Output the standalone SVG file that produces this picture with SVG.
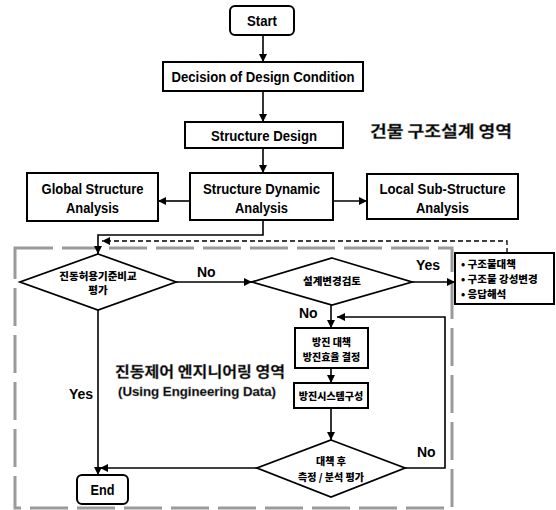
<svg xmlns="http://www.w3.org/2000/svg" width="556" height="510" viewBox="0 0 556 510">
<style>
.box{fill:#fff;stroke:#000;stroke-width:2}
.dia{fill:#fff;stroke:#000;stroke-width:1.8}
.ln{fill:none;stroke:#000;stroke-width:1.6}
.dash{fill:none;stroke:#000;stroke-width:1.3;stroke-dasharray:5 3}
.reg{fill:none;stroke:#9a9a9a;stroke-width:3;stroke-dasharray:38 9}
.en{font-family:"Liberation Sans",Arial,sans-serif;font-weight:bold;font-size:14px;fill:#000}
.ko{font-family:"Noto Sans CJK KR","Noto Sans",sans-serif;font-weight:900;font-size:10px;fill:#000}
.big{font-family:"Noto Sans CJK KR","Liberation Sans",sans-serif;font-weight:bold;font-size:15px;fill:#000;stroke:#777;stroke-width:0.4}
.bigen{font-family:"Liberation Sans",Arial,sans-serif;font-weight:bold;font-size:13.5px;fill:#000;stroke:#777;stroke-width:0.4}
.c{text-anchor:middle}
</style>
<defs>
<marker id="ah" viewBox="0 0 10 10" refX="10" refY="5" markerWidth="8" markerHeight="8" markerUnits="userSpaceOnUse" orient="auto">
<path d="M0,0 L10,5 L0,10 Z" fill="#000"/>
</marker>
</defs>

<rect id="region" class="reg" x="15" y="248" width="437" height="260"/>

<g id="connectors">
<line class="ln" x1="263" y1="35" x2="263" y2="62" marker-end="url(#ah)"/>
<line class="ln" x1="263" y1="91" x2="263" y2="122" marker-end="url(#ah)"/>
<line class="ln" x1="263" y1="148" x2="263" y2="173" marker-end="url(#ah)"/>
<line class="ln" x1="190" y1="201" x2="158" y2="201" marker-end="url(#ah)"/>
<line class="ln" x1="333" y1="201" x2="367" y2="201" marker-end="url(#ah)"/>
<polyline class="ln" points="263,220 263,235 98,235 98,254" marker-end="url(#ah)"/>
<polyline class="dash" points="507,253 507,241 102,241" marker-end="url(#ah)"/>
<line class="ln" x1="176" y1="282" x2="252" y2="282" marker-end="url(#ah)"/>
<line class="ln" x1="412" y1="282" x2="455" y2="282" marker-end="url(#ah)"/>
<line class="ln" x1="331" y1="305" x2="331" y2="328" marker-end="url(#ah)"/>
<line class="ln" x1="331" y1="368" x2="331" y2="383" marker-end="url(#ah)"/>
<line class="ln" x1="331" y1="408" x2="331" y2="440" marker-end="url(#ah)"/>
<polyline class="ln" points="405,468 445,468 445,317 337,317" marker-end="url(#ah)"/>
<line class="ln" x1="257" y1="468" x2="100" y2="468" marker-end="url(#ah)"/>
<line class="ln" x1="98" y1="310" x2="98" y2="475" marker-end="url(#ah)"/>
<text class="en" x="197" y="277" font-size="13">No</text>
<text class="en" x="416" y="270" font-size="13">Yes</text>
<text class="en" x="299" y="318" font-size="13">No</text>
<text class="en" x="417" y="457" font-size="13">No</text>
<text class="en" x="69" y="399" font-size="13">Yes</text>
</g>

<g id="start">
<rect class="box" x="230" y="6" width="64" height="29" rx="5"/>
<text class="en c" x="262" y="26" textLength="30" lengthAdjust="spacingAndGlyphs">Start</text>
</g>
<g id="decision">
<rect class="box" x="163" y="62" width="200" height="29"/>
<text class="en c" x="263" y="82" textLength="183" lengthAdjust="spacingAndGlyphs">Decision of Design Condition</text>
</g>
<g id="structure-design">
<rect class="box" x="185" y="122" width="158" height="26"/>
<text class="en c" x="264" y="141" textLength="106" lengthAdjust="spacingAndGlyphs">Structure Design</text>
</g>
<g id="title-building">
<text class="big" x="370" y="137" font-size="16" textLength="142" lengthAdjust="spacingAndGlyphs" style="font-size:16px">건물 구조설계 영역</text>
</g>
<g id="global">
<rect class="box" x="27" y="173" width="131" height="48"/>
<text class="en c" x="92.5" y="194" textLength="102" lengthAdjust="spacingAndGlyphs">Global Structure</text>
<text class="en c" x="92.5" y="213" textLength="53" lengthAdjust="spacingAndGlyphs">Analysis</text>
</g>
<g id="dynamic">
<rect class="box" x="190" y="173" width="143" height="47"/>
<text class="en c" x="261.5" y="194" textLength="117" lengthAdjust="spacingAndGlyphs">Structure Dynamic</text>
<text class="en c" x="261.5" y="213" textLength="53" lengthAdjust="spacingAndGlyphs">Analysis</text>
</g>
<g id="local">
<rect class="box" x="367" y="174" width="151" height="45"/>
<text class="en c" x="442.5" y="194" textLength="126" lengthAdjust="spacingAndGlyphs">Local Sub-Structure</text>
<text class="en c" x="442.5" y="213" textLength="53" lengthAdjust="spacingAndGlyphs">Analysis</text>
</g>
<g id="criteria">
<polygon class="dia" points="98,254 176,282 98,310 20,282"/>
<text class="ko c" x="98" y="280" style="font-size:10.5px">진동허용기준비교</text>
<text class="ko c" x="98" y="294" style="font-size:10.5px">평가</text>
</g>
<g id="design-change">
<polygon class="dia" points="332,258 412,282 332,305 252,282"/>
<text class="ko c" x="332" y="285" style="font-size:10.5px">설계변경검토</text>
</g>
<g id="measures">
<rect class="box" x="455" y="253" width="99" height="51"/>
<text class="ko" x="461" y="268" style="font-size:10.5px">• 구조물대책</text>
<text class="ko" x="461" y="283" style="font-size:10.5px">• 구조물 강성변경</text>
<text class="ko" x="461" y="298" style="font-size:10.5px">• 응답해석</text>
</g>
<g id="isolation-decision">
<rect class="box" x="295" y="328" width="73" height="40"/>
<text class="ko c" x="331.5" y="346">방진 대책</text>
<text class="ko c" x="331.5" y="361">방진효율 결정</text>
</g>
<g id="isolation-system">
<rect class="box" x="294" y="383" width="74" height="25"/>
<text class="ko c" x="331" y="400">방진시스템구성</text>
</g>
<g id="evaluation">
<polygon class="dia" points="331,440 405,468 331,497 257,468"/>
<text class="ko c" x="331" y="465">대책 후</text>
<text class="ko c" x="331" y="481">측정 / 분석 평가</text>
</g>
<g id="end">
<rect class="box" x="77" y="475" width="51" height="29" rx="5"/>
<text class="en c" x="102.5" y="495" textLength="24" lengthAdjust="spacingAndGlyphs">End</text>
</g>
<g id="title-vibration">
<text class="big" x="115" y="377" textLength="170" lengthAdjust="spacingAndGlyphs">진동제어 엔지니어링 영역</text>
<text class="bigen" x="118" y="396" textLength="158" lengthAdjust="spacingAndGlyphs">(Using Engineering Data)</text>
</g>
</svg>
